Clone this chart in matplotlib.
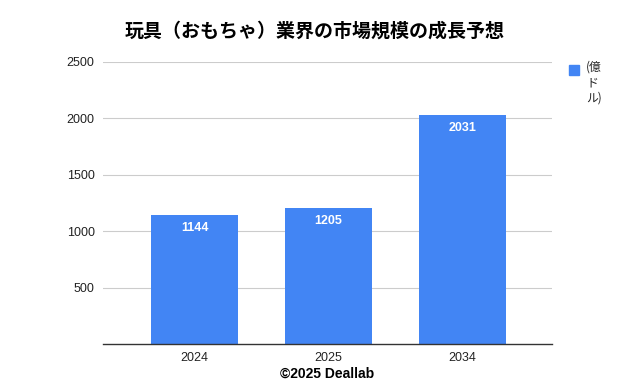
import matplotlib
matplotlib.use("Agg")
from matplotlib import pyplot as plt

plt.rcParams['font.family'] = ['Noto Sans CJK JP', 'DejaVu Sans']

years = ['2024', '2025', '2034']
values = [1144, 1205, 2031]
yticks = [500, 1000, 1500, 2000, 2500]
title = '玩具（おもちゃ）業界の市場規模の成長予想'
legend_label = '(億\nド\nル)'
footer = '©2025 Deallab'

BLUE = '#4285F4'

fig = plt.figure(figsize=(6.26, 3.86), dpi=100)
ax = fig.add_axes([103 / 626, 1 - 344 / 386, 449 / 626, 282 / 386])

x = list(range(len(years)))
ax.bar(x, values, width=0.65, color=BLUE, zorder=3)
for xi, v in zip(x, values):
    ax.text(xi, v - 60, str(v), ha='center', va='top', color='white',
            fontsize=9, fontweight='bold', family=['Liberation Sans', 'DejaVu Sans'])

ax.set_xlim(-0.683, 2.668)
ax.set_ylim(0, 2500)
ax.set_xticks(x)
ax.set_xticklabels(years, family=['Liberation Sans', 'DejaVu Sans'], fontsize=9, color='#222222')
ax.set_yticks(yticks)
ax.set_yticklabels([str(t) for t in yticks], family=['Liberation Sans', 'DejaVu Sans'],
                   fontsize=9, color='#222222')
ax.tick_params(axis='both', length=0, pad=6)
ax.grid(axis='y', color='#cccccc', linewidth=0.8, zorder=0)
for s in ['top', 'right', 'left']:
    ax.spines[s].set_visible(False)
ax.spines['bottom'].set_color('#333333')
ax.spines['bottom'].set_linewidth(1.0)
ax.spines['bottom'].set_zorder(4)

fig.text(315 / 626, 1 - 31 / 386, title, ha='center', va='center',
         fontsize=13.7, fontweight='bold', color='black')

# legend
fig.patches.append(plt.Rectangle((569 / 626, 1 - 75 / 386), 10 / 626, 10 / 386,
                                 transform=fig.transFigure, color=BLUE))
fig.text(586 / 626, 1 - 61 / 386, legend_label, ha='left', va='top',
         fontsize=8.5, color='#222222', linespacing=1.25)

fig.text(327 / 626, 1 - 374 / 386, footer, ha='center', va='center',
         fontsize=10, fontweight='bold', color='black',
         family=['Liberation Sans', 'DejaVu Sans'])

fig.savefig('out.png', dpi=100)
